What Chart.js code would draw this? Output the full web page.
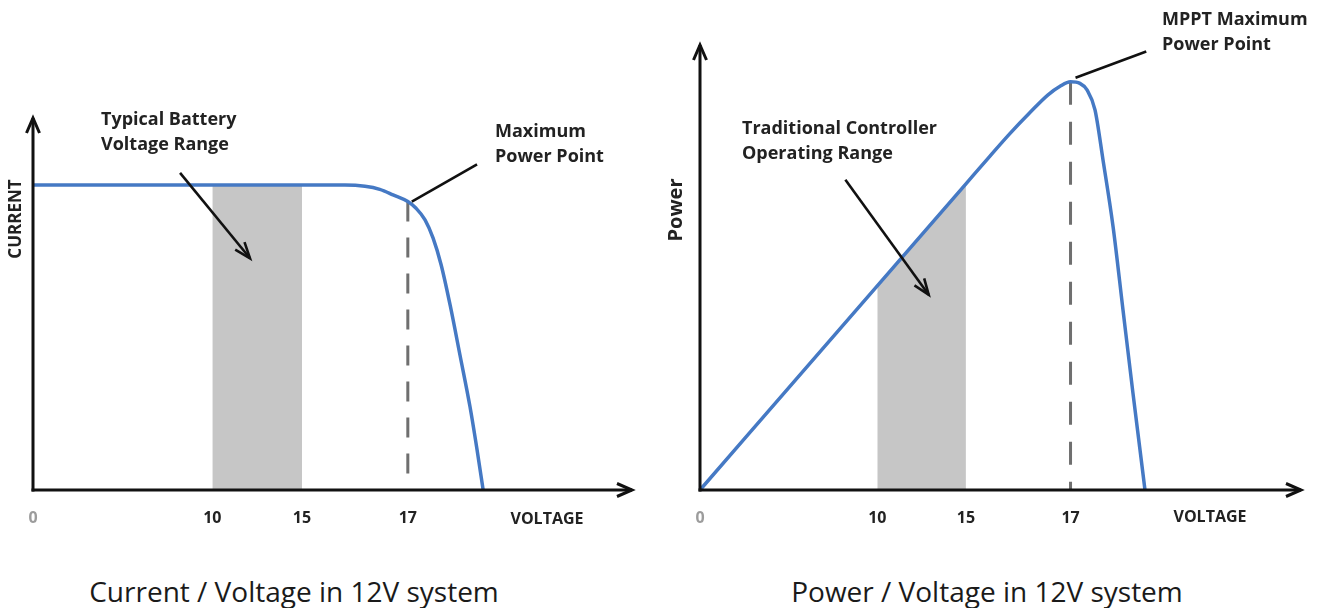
<!DOCTYPE html>
<html>
<head>
<meta charset="utf-8">
<script src="https://cdn.jsdelivr.net/npm/chart.js@4.4.1/dist/chart.umd.min.js"></script>
<style>
  html, body { margin: 0; padding: 0; background: #fff; width: 1323px; height: 608px; overflow: hidden; }
  canvas { position: absolute; top: 0; }
  #ivChart { left: 0; }
  #pvChart { left: 660px; }
  .cap { position: absolute; top: 577px; font-family: 'Open Sans', sans-serif; font-size: 28px; line-height: 28px;
         color: #1a1a1a; white-space: nowrap; transform: translateX(-50%); }
</style>
</head>
<body>
<canvas id="ivChart" width="660" height="540"></canvas>
<canvas id="pvChart" width="663" height="540"></canvas>
<div class="cap" style="left:294px">Current / Voltage in 12V system</div>
<div class="cap" style="left:987px">Power / Voltage in 12V system</div>
<script>
// ---------------- data ----------------
const tickValues = [0, 10, 15, 17];
const tickLabels = ['0', '10', '15', '17'];
const operatingRange = [10, 15];      // typical battery / traditional controller range (V)
const mppVoltage = 17;                 // maximum power point voltage

// Current / Voltage curve (relative current units)
const ivVoltage = [0, 5, 10, 15, 15.81, 16.19, 16.47, 16.72, 17, 17.46, 17.96, 18.41, 18.86, 19.36, 19.91, 20.47, 20.86, 21.2];
const ivCurrent = [5, 5, 5, 5, 5.0, 4.98, 4.93, 4.84, 4.73, 4.62, 4.43, 4.13, 3.69, 3.03, 2.21, 1.36, 0.66, 0];

// Power / Voltage curve (relative power, peak = 100)
const pvVoltage = [0, 5, 10, 15, 15.46, 15.84, 16.22, 16.57, 16.8, 17, 17.53, 17.93, 18.38, 18.83, 19.4, 19.96, 20.52, 20.92, 21.2];
const pvPower   = [0, 25, 50, 75, 81.8, 87.3, 92.4, 96.8, 98.9, 100, 99.6, 98.0, 93.1, 80.9, 64.5, 44.1, 23.8, 9.8, 0];

// The original drawing stretches the 15–17 V span of its voltage axis.
const warpVolts = [0, 15, 17, 60];
const warpPos   = [0, 15, 20.9, 63.9];

// ---------------- warped voltage scale ----------------
function pl(v, xs, ys) {
  let i = 1;
  while (i < xs.length - 1 && v > xs[i]) i++;
  return ys[i - 1] + (v - xs[i - 1]) * (ys[i] - ys[i - 1]) / (xs[i] - xs[i - 1]);
}
const warp = v => pl(v, warpVolts, warpPos);
const unwarp = p => pl(p, warpPos, warpVolts);

class WarpedScale extends Chart.LinearScale {
  getPixelForValue(value) {
    if (value === null || value === undefined || isNaN(value)) return NaN;
    const a = warp(this.min), b = warp(this.max);
    return this.getPixelForDecimal((warp(value) - a) / (b - a));
  }
  getValueForPixel(pixel) {
    const a = warp(this.min), b = warp(this.max);
    return unwarp(a + this.getDecimalForPixel(pixel) * (b - a));
  }
}
WarpedScale.id = 'warped';
WarpedScale.defaults = Chart.LinearScale.defaults;
Chart.register(WarpedScale);

// ---------------- drawing helpers ----------------
const FONT = "'Open Sans', 'DejaVu Sans', sans-serif";
function seg(ctx, x1, y1, x2, y2) { ctx.beginPath(); ctx.moveTo(x1, y1); ctx.lineTo(x2, y2); ctx.stroke(); }
function head(ctx, tx, ty, ang, len, hw) {
  const c = Math.cos(ang), s = Math.sin(ang);
  const bx = tx - len * c, by = ty - len * s;
  ctx.beginPath();
  ctx.moveTo(bx - hw * s, by + hw * c);
  ctx.lineTo(tx, ty);
  ctx.lineTo(bx + hw * s, by - hw * c);
  ctx.stroke();
}

const sketchPlugin = {
  id: 'sketch',
  afterDatasetsDraw(chart, args, o) {
    const { ctx, chartArea: ca } = chart;
    const xs = chart.scales.x, ys = chart.scales.y;
    const px = p => ({ x: xs.getPixelForValue(p.x), y: ys.getPixelForValue(p.y) });
    ctx.save();
    // axes with arrows
    ctx.strokeStyle = '#111'; ctx.lineWidth = 3; ctx.lineJoin = 'miter'; ctx.lineCap = 'butt';
    seg(ctx, ca.left - 1.5, ca.bottom, ca.right, ca.bottom);
    seg(ctx, ca.left, ca.bottom + 1.5, ca.left, ca.top);
    head(ctx, ca.right, ca.bottom, 0, 15, 6.5);
    head(ctx, ca.left, ca.top, -Math.PI / 2, 15, 6.5);

    // annotation arrow
    ctx.lineWidth = 2.6;
    const a1 = px(o.arrow.from), a2 = px(o.arrow.to);
    seg(ctx, a1.x, a1.y, a2.x, a2.y);
    head(ctx, a2.x, a2.y, Math.atan2(a2.y - a1.y, a2.x - a1.x), 16, 6);

    // leader line to the maximum power point
    const l1 = px(o.leader.from), l2 = px(o.leader.to);
    seg(ctx, l1.x + o.leader.offset[0], l1.y + o.leader.offset[1], l2.x, l2.y);

    // texts
    ctx.fillStyle = '#222';
    ctx.textAlign = 'left'; ctx.textBaseline = 'alphabetic';
    ctx.font = `bold ${o.noteSize}px ${FONT}`;
    o.notes.forEach(n => n.lines.forEach((t, i) => ctx.fillText(t, n.x, n.y + i * 25)));

    ctx.textAlign = 'center'; ctx.textBaseline = 'middle';
    ctx.font = `bold 16px ${FONT}`;
    ctx.fillText(o.xTitle.text, o.xTitle.x, o.xTitle.y);

    ctx.translate(o.yTitle.x, o.yTitle.y);
    ctx.rotate(-Math.PI / 2);
    ctx.font = `bold ${o.yTitle.size}px ${FONT}`;
    ctx.fillText(o.yTitle.text, 0, 0);
    ctx.restore();
  }
};

const curveColor = '#4579c4';
const bandColor = '#c6c6c6';
const dashColor = '#6f6f6f';

function valueAt(xsArr, ysArr, v) { return ysArr[xsArr.indexOf(v)]; }

function makeChart(canvasId, xv, yv, cfg) {
  return new Chart(document.getElementById(canvasId), {
    type: 'line',
    data: {
      datasets: [
        { data: xv.map((v, i) => ({ x: v, y: yv[i] })), borderColor: curveColor, borderWidth: 3.5,
          pointRadius: 0, cubicInterpolationMode: 'monotone', fill: false, order: 1, clip: 4 },
        { data: [{ x: mppVoltage, y: valueAt(xv, yv, mppVoltage) }, { x: mppVoltage, y: 0 }],
          borderColor: dashColor, borderWidth: 3, borderDash: cfg.dash, pointRadius: 0, fill: false, order: 2 },
        { data: operatingRange.map(v => ({ x: v, y: valueAt(xv, yv, v) })), borderWidth: 0, pointRadius: 0,
          fill: 'origin', backgroundColor: bandColor, order: 3 }
      ]
    },
    options: {
      responsive: false,
      animation: false,
      layout: { padding: cfg.padding },
      plugins: { legend: { display: false }, tooltip: { enabled: false }, sketch: cfg.sketch },
      scales: {
        x: {
          type: 'warped', min: 0, max: cfg.xMax,
          afterBuildTicks: s => { s.ticks = tickValues.map(v => ({ value: v })); },
          afterFit: s => { s.height = 50; },
          grid: { display: false, drawTicks: false },
          border: { display: false },
          ticks: {
            autoSkip: false, maxRotation: 0, minRotation: 0, padding: 19,
            callback: (v, i) => tickLabels[i],
            color: c => (c.index === 0 ? '#9c9c9c' : '#222'),
            font: { family: FONT, size: 16, weight: 'bold' }
          }
        },
        y: { type: 'linear', display: false, min: 0, max: cfg.yMax }
      }
    },
    plugins: [sketchPlugin]
  });
}

makeChart('ivChart', ivVoltage, ivCurrent, {
  xMax: 29.5, yMax: 6.1, dash: [20, 16],
  padding: { left: 33, right: 28, top: 118, bottom: 0 },
  sketch: {
    noteSize: 18,
    yTitle: { text: 'CURRENT', x: 16, y: 219, size: 17 },
    xTitle: { text: 'VOLTAGE', x: 547, y: 519 },
    notes: [
      { lines: ['Typical Battery', 'Voltage Range'], x: 101, y: 125 },
      { lines: ['Maximum', 'Power Point'], x: 495, y: 137 }
    ],
    arrow: { from: { x: 8.2, y: 5.2 }, to: { x: 12.1, y: 3.8 } },
    leader: { from: { x: mppVoltage, y: valueAt(ivVoltage, ivCurrent, mppVoltage) }, offset: [4, 0], to: { x: 20.86, y: 5.34 } }
  }
});

makeChart('pvChart', pvVoltage, pvPower, {
  xMax: 30, yMax: 109, dash: [23, 17],
  padding: { left: 40, right: 22, top: 45, bottom: 0 },
  sketch: {
    noteSize: 18,
    yTitle: { text: 'Power', x: 16, y: 210, size: 20 },
    xTitle: { text: 'VOLTAGE', x: 550, y: 517 },
    notes: [
      { lines: ['MPPT Maximum', 'Power Point'], x: 502, y: 25 },
      { lines: ['Traditional Controller', 'Operating Range'], x: 82, y: 134 }
    ],
    arrow: { from: { x: 8.2, y: 76 }, to: { x: 12.9, y: 47.8 } },
    leader: { from: { x: mppVoltage, y: valueAt(pvVoltage, pvPower, mppVoltage) }, offset: [5, -4], to: { x: 21.27, y: 107.4 } }
  }
});
</script>
</body>
</html>
